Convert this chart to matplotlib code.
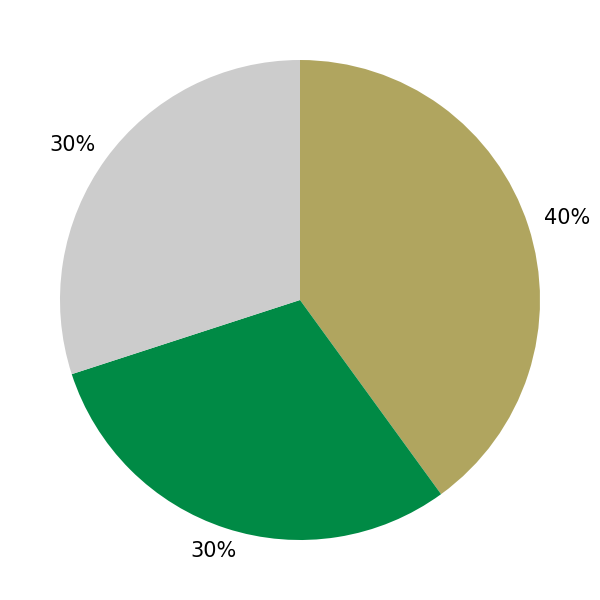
import matplotlib
matplotlib.use("Agg")
import matplotlib.pyplot as plt

values = [40, 30, 30]
colors = ["#B0A55F", "#008A45", "#CCCCCC"]

fig = plt.figure(figsize=(6, 6), dpi=100)
ax = fig.add_axes([0, 0, 1, 1])
wedges, texts, autotexts = ax.pie(values, colors=colors, startangle=90, counterclock=False,
                                  autopct="%d%%", pctdistance=1.1, textprops={"fontsize": 15})
for t in autotexts:
    x, y = t.get_position()
    t.set_position((x * 1.065, y))
ax.set_aspect("equal")
ax.set_xlim(-1.25, 1.25)
ax.set_ylim(-1.25, 1.25)
fig.savefig("out.png", dpi=100)
